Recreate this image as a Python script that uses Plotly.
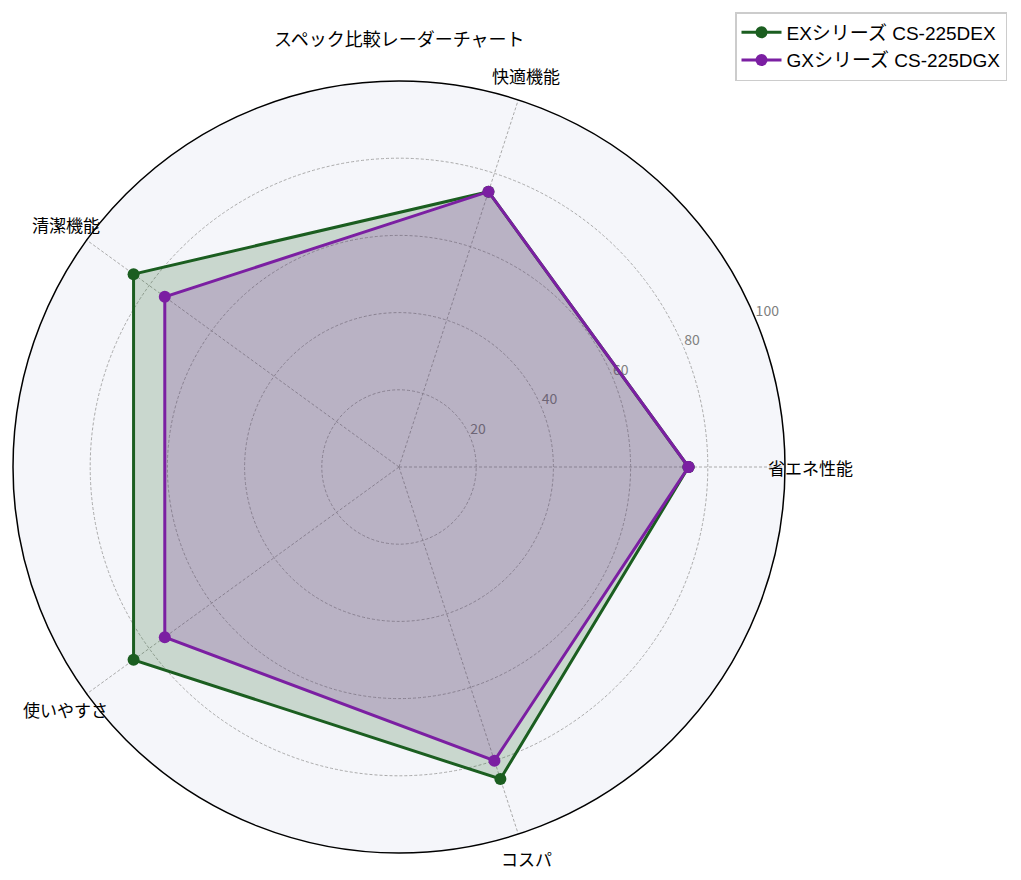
import math
import plotly.graph_objects as go

categories = ["省エネ性能", "快適機能", "清潔機能", "使いやすさ", "コスパ"]
ex_values = [75, 75, 85, 85, 85]
gx_values = [75, 75, 75, 75, 80]
series_names = ["EXシリーズ CS-225DEX", "GXシリーズ CS-225DGX"]
radial_ticks = [20, 40, 60, 80, 100]

FONT = "Noto Sans CJK JP"
W, H = 1021, 880
# polar square in pixels (left, right, bottom, top)
PX0, PX1, PY0, PY1 = 5, 777, 35, 807
LABEL_R = 1.067  # label centres, relative to the outer ring
TICK_ANGLE = 22.5


def closed(vals):
    return list(vals) + [vals[0]]


fig = go.Figure()

# bottom polar: background, grid and radial tick labels (under the data, like mpl)
fig.add_trace(go.Scatterpolar(
    r=radial_ticks, theta=[TICK_ANGLE] * len(radial_ticks),
    mode="text", text=[str(t) for t in radial_ticks], textposition="top right",
    textfont=dict(size=14, color="#808080", family=FONT),
    subplot="polar", showlegend=False, hoverinfo="skip", cliponaxis=False,
))

styles = [
    (ex_values, series_names[0], "#1b5e20", "rgba(27,94,32,0.2)"),
    (gx_values, series_names[1], "#7b1fa2", "rgba(123,31,162,0.2)"),
]
# top polar: fills first (kept out of legend), then lines+markers
for vals, name, color, fill in styles:
    fig.add_trace(go.Scatterpolar(
        r=closed(vals), theta=closed(categories),
        mode="none", fill="toself", fillcolor=fill,
        subplot="polar2", showlegend=False, hoverinfo="skip",
    ))
for vals, name, color, fill in styles:
    fig.add_trace(go.Scatterpolar(
        r=closed(vals),
        theta=closed(categories),
        mode="lines+markers",
        name=name,
        subplot="polar2",
        line=dict(color=color, width=3),
        marker=dict(size=12, color=color),
    ))

# category labels centred outside the ring
cx, cy = (PX0 + PX1) / 2, (PY0 + PY1) / 2
rad = (PX1 - PX0) / 2
for i, cat in enumerate(categories):
    a = math.radians(360 / len(categories) * i)
    fig.add_annotation(
        text=cat, xref="paper", yref="paper",
        x=(cx + LABEL_R * rad * math.cos(a)) / W,
        y=(cy + LABEL_R * rad * math.sin(a)) / H,
        xanchor="center", yanchor="middle", showarrow=False,
        font=dict(size=17, family=FONT, color="black"),
    )

fig.add_annotation(
    text="スペック比較レーダーチャート", xref="paper", yref="paper",
    x=cx / W, y=1 - 30 / H, xanchor="center", yanchor="middle",
    showarrow=False, font=dict(size=18, family=FONT, color="black"),
)

domain = dict(x=[PX0 / W, PX1 / W], y=[PY0 / H, PY1 / H])
grid = dict(gridcolor="#aaaaaa", griddash="3px,2px", gridwidth=0.8)

fig.update_layout(
    width=W, height=H,
    margin=dict(l=0, r=0, t=0, b=0),
    paper_bgcolor="white",
    font=dict(family=FONT, color="black", size=14),
    legend=dict(x=999 / W, y=1 - 4 / H, xanchor="right", yanchor="top",
                bordercolor="#cccccc", borderwidth=1.5, bgcolor="white",
                font=dict(size=19, family="Liberation Sans, " + FONT),
                itemwidth=40, tracegroupgap=0),
    polar=dict(
        domain=domain,
        bgcolor="#f5f6fa",
        angularaxis=dict(
            direction="counterclockwise", rotation=0,
            tickvals=[0, 72, 144, 216, 288],
            showline=False, ticks="", showticklabels=False, **grid,
        ),
        radialaxis=dict(
            range=[0, 100], tickvals=radial_ticks, angle=TICK_ANGLE,
            showline=False, ticks="", showticklabels=False, **grid,
        ),
    ),
    polar2=dict(
        domain=domain,
        bgcolor="rgba(0,0,0,0)",
        angularaxis=dict(
            direction="counterclockwise", rotation=0,
            linecolor="black", linewidth=1.5,
            showgrid=False, ticks="", showticklabels=False,
        ),
        radialaxis=dict(range=[0, 100], showgrid=False, showline=False,
                        ticks="", showticklabels=False),
    ),
)

fig.write_html("out.html")
